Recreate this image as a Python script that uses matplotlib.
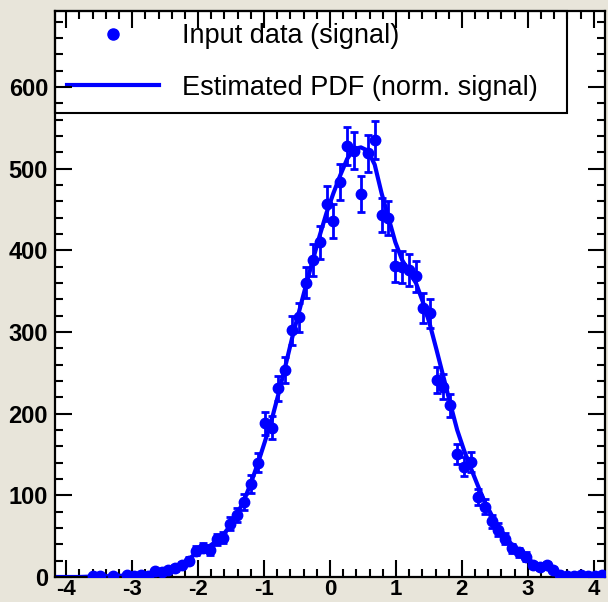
import numpy as np
import matplotlib.pyplot as plt
from matplotlib.lines import Line2D
from matplotlib.ticker import MultipleLocator

plt.rcParams['font.family'] = ['Liberation Sans', 'DejaVu Sans']
plt.rcParams['axes.unicode_minus'] = False

# histogram range and bin contents (input data, signal)
x_lo, x_hi = -4.17, 4.17
counts = [0, 0, 0, 0, 0, 1, 1, 0, 1, 0,
          2, 1, 2, 1, 7, 6, 8, 11, 15, 20,
          32, 36, 33, 46, 48, 65, 76, 92, 114, 140,
          188, 183, 231, 253, 302, 318, 360, 388, 410, 457,
          436, 484, 528, 522, 469, 519, 535, 443, 440, 381,
          380, 376, 368, 329, 323, 241, 233, 210, 151, 135,
          141, 98, 86, 68, 58, 47, 35, 30, 25, 15,
          12, 15, 9, 3, 1, 1, 2, 1, 1, 2]

# estimated PDF (normalised to the signal), read at the bin centres
pdf = [0, 0, 0, 0, 0.3, 0.6, 0.8, 1, 1.2, 1.5,
       1.8, 2, 2.5, 3.5, 5, 6.5, 8.5, 11.5, 16, 22,
       29, 34, 38, 44, 52, 63, 77, 94, 115, 139,
       165, 192, 224, 258, 293, 325, 357, 388, 418, 446,
       470, 492, 512, 524, 526, 522, 505, 470, 440, 410,
       388, 374, 360, 337, 310, 278, 245, 212, 180, 155,
       133, 112, 92, 76, 62, 50, 39, 31, 24, 18,
       13, 10, 7, 4, 2.5, 1.5, 1, 0.8, 0.6, 0.5]

y_top = 693

counts = np.array(counts, dtype=float)
edges = np.linspace(x_lo, x_hi, len(counts) + 1)
centers = 0.5 * (edges[:-1] + edges[1:])
errors = np.sqrt(counts)
filled = counts > 0

fig = plt.figure(figsize=(6.08, 6.02), dpi=100, facecolor='#e8e5da')
ax = fig.add_axes([55 / 608, 25 / 602, 550 / 608, 566 / 602])
ax.set_facecolor('white')

# PDF line, stretched to the frame edges
pdf_x = np.concatenate([[x_lo], centers, [x_hi]])
pdf_y = np.concatenate([[pdf[0]], pdf, [pdf[-1]]])
ax.plot(pdf_x, pdf_y, color='blue', lw=3, zorder=2)

ax.errorbar(centers[filled], counts[filled], yerr=errors[filled],
            fmt='o', color='blue', ms=7.5, elinewidth=2, capsize=2.8,
            capthick=2, zorder=3)

ax.set_xlim(x_lo, x_hi)
ax.set_ylim(0, y_top)

ax.xaxis.set_major_locator(MultipleLocator(1))
ax.xaxis.set_minor_locator(MultipleLocator(0.2))
ax.yaxis.set_major_locator(MultipleLocator(100))
ax.yaxis.set_minor_locator(MultipleLocator(20))
ax.tick_params(which='both', direction='in', top=True, right=True,
               width=1.5, colors='black')
ax.tick_params(which='major', length=12)
ax.tick_params(which='minor', length=6)
ax.tick_params(axis='x', pad=1.5, labelsize=16)
ax.tick_params(axis='y', pad=5, labelsize=17)
for lab in ax.get_xticklabels() + ax.get_yticklabels():
    lab.set_fontweight('bold')
for sp in ax.spines.values():
    sp.set_linewidth(1.6)

handles = [Line2D([], [], marker='o', ls='none', color='blue', ms=8),
           Line2D([], [], color='blue', lw=3)]
labels = ['Input data (signal)', 'Estimated PDF (norm. signal)']
leg = ax.legend(handles, labels, loc='upper left',
                bbox_to_anchor=(0, 0, 512 / 550, 1), mode='expand',
                borderaxespad=0, fontsize=19.5, frameon=True, fancybox=False,
                borderpad=0.45, labelspacing=0.95, handlelength=3.4,
                handletextpad=0.85)
leg.get_frame().set_edgecolor('black')
leg.get_frame().set_linewidth(1.5)
leg.get_frame().set_alpha(1)
leg.set_zorder(1)

fig.savefig('out.png', dpi=100, facecolor=fig.get_facecolor())
